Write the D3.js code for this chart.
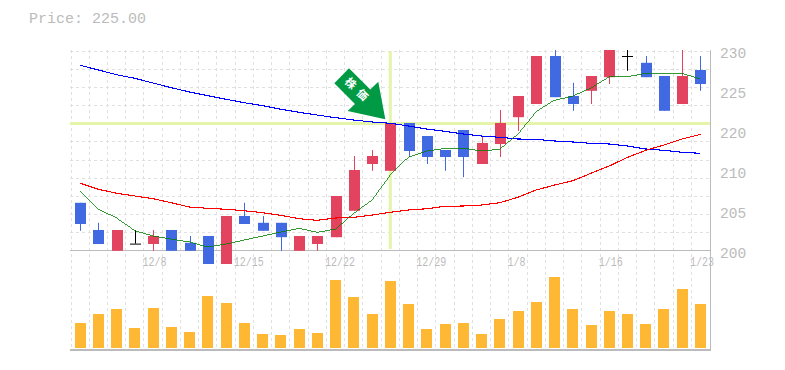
<!DOCTYPE html>
<html>
<head>
<meta charset="utf-8">
<script src="https://cdn.jsdelivr.net/npm/d3@7"></script>
<style>
  html, body { margin: 0; padding: 0; background: #fff; }
  text { font-family: "Liberation Mono", monospace; fill: #bbb; }
</style>
</head>
<body>
<div id="chart"></div>
<script>
var priceLabel = "Price: 225.00";

var dateTicks = [
  { i: 4, label: "12/8" },
  { i: 9, label: "12/15" },
  { i: 14, label: "12/22" },
  { i: 19, label: "12/29" },
  { i: 24, label: "1/8" },
  { i: 29, label: "1/16" },
  { i: 34, label: "1/23" }
];
var priceTicks = [200, 205, 210, 220, 225, 230];

// candles
var opens  = [205.9, 202.5, 199.9, 200.8, 200.75, 202.5, 200.9, 201.75, 198.25, 204.25, 203.4, 203.4, 199.9, 200.75, 201.6, 204.9, 211.5, 209.9, 220.875, 218.5, 215, 220, 211.5, 216.5, 221.6, 223.25, 229.25, 224.25, 224.9, 226.6, 229.25, 228.4, 226.75, 223.25, 227.5];
var closes = [203.25, 200.75, 202.5, 200.8, 201.75, 199.9, 199.9, 198.25, 204.25, 203.25, 202.4, 201.6, 201.75, 201.75, 206.75, 210, 213.5, 220.875, 214.75, 213.25, 213.25, 213.25, 216.75, 220.875, 224.25, 229.25, 224.1, 223.25, 226.75, 230, 229.25, 226.6, 222.4, 226.75, 225.75];
var highs  = [205.9, 203.4, 202.5, 202.5, 202.5, 202.5, 201.75, 201.75, 204.25, 205.9, 204.25, 203.4, 201.75, 201.75, 206.75, 213.5, 215, 220.875, 220.875, 218.5, 215, 220, 218.5, 222.5, 224.25, 229.25, 230, 225.9, 226.75, 230, 230, 229.25, 226.75, 230, 229.25];
var lows   = [202.4, 200.75, 199.9, 200.8, 199.9, 199.9, 199.9, 198.25, 198.25, 203.25, 202.4, 199.9, 199.9, 199.9, 201.6, 204.9, 209.9, 209.9, 213.25, 211.5, 209.9, 209.1, 211.5, 213.25, 219.75, 223.25, 224.1, 222.4, 223.25, 225.75, 227.4, 226.6, 222.4, 223.25, 224.9];

// moving averages, as prices
var maShort = [207.34, 205.12, 204, 202.41, 201.75, 201.37, 201, 200.37, 200.75, 201.25, 201.75, 202.25, 202.71, 202.21, 202.62, 204.59, 206.25, 209.37, 213.25, 214.75, 215.4, 215.5, 214.75, 215.2, 219, 222.3, 223.75, 224.25, 225.25, 226.66, 226.66, 227.09, 227.09, 227.09, 226.34];
var maMid   = [208.34, 207.59, 207.09, 206.75, 206.41, 205.91, 205.37, 205.21, 205.09, 204.91, 204.66, 204.34, 203.91, 203.71, 204, 204.09, 204.37, 204.71, 205, 205.16, 205.46, 205.5, 205.62, 205.91, 206.59, 207.5, 208.12, 208.66, 209.59, 211, 213.17, 214.92, 216.25, 217.75, 218.92];
var maLong  = [228.09, 227.5, 226.91, 226.46, 225.87, 225.29, 224.75, 224.29, 223.84, 223.41, 223.04, 222.59, 222.21, 221.87, 221.54, 221.25, 221, 220.84, 220.5, 220.12, 219.67, 219, 218.5, 218.17, 217.75, 217.67, 217.25, 217, 216.67, 216.5, 216, 215.25, 214.92, 214.42, 214.17];

var volumes = [25, 34, 39, 20, 40, 21, 16, 52, 45, 25, 14, 13, 19, 15, 68, 51, 34, 67, 44, 19, 24, 25, 14, 29, 37, 46, 71, 39, 23, 37, 34, 24, 39, 59, 44];

var markerIndex = 17;
var markerPrice = 220.81;

var svgWidth = 785;
var svgHeight = 370;
var left = 71, right = 709.6;
var priceTop = 50, volTop = 250, volBottom = 348, bottom = 350;

var svg = d3.select("#chart")
  .append("svg")
  .attr("width", svgWidth)
  .attr("height", svgHeight)
  .style("display", "block");

// Scales
var x = d3.scaleBand()
  .domain(d3.range(opens.length))
  .range([left, right])
  .paddingInner(0);

// the labels on the right are evenly spaced although their steps are not
var y = d3.scaleLinear()
  .domain([200, 205, 210, 220, 225, 230])
  .range([250, 210, 170, 130, 90, 50]);

var yVol = d3.scaleLinear()
  .domain([0, 98])
  .range([volBottom, volTop]);

function cx(i) { return x(i) + x.bandwidth() / 2; }

svg.append("text")
  .attr("x", 29)
  .attr("y", 23)
  .style("font-size", "15px")
  .text(priceLabel);

// Grid
var gridColor = "#e0e0e0";
var gridY = d3.range(11).map(i => 50.5 + i * 18.18);
svg.append("g").selectAll("line")
  .data(gridY)
  .join("line")
  .attr("x1", 70).attr("x2", 710)
  .attr("y1", d => Math.round(d) + 0.5).attr("y2", d => Math.round(d) + 0.5)
  .attr("stroke", gridColor)
  .attr("stroke-dasharray", "3,3");

svg.append("g").selectAll("line")
  .data(d3.range(opens.length))
  .join("line")
  .attr("x1", d => Math.floor(x(d)) + 0.5).attr("x2", d => Math.floor(x(d)) + 0.5)
  .attr("y1", priceTop).attr("y2", bottom)
  .attr("stroke", gridColor)
  .attr("stroke-dasharray", "3,3");

// Panel borders
var borderColor = "#bbb";
svg.append("line").attr("x1", 70).attr("x2", 711).attr("y1", 250.5).attr("y2", 250.5).attr("stroke", borderColor);
svg.append("line").attr("x1", 70).attr("x2", 711).attr("y1", 350).attr("y2", 350).attr("stroke", borderColor).attr("stroke-width", 2);
svg.append("line").attr("x1", 710.5).attr("x2", 710.5).attr("y1", 50).attr("y2", 350).attr("stroke", borderColor);

// Marker lines
var markerColor = "#e4f4a8";
svg.append("line")
  .attr("x1", 70).attr("x2", 710)
  .attr("y1", y(markerPrice)).attr("y2", y(markerPrice))
  .attr("stroke", markerColor).attr("stroke-width", 3);
svg.append("line")
  .attr("x1", cx(markerIndex)).attr("x2", cx(markerIndex))
  .attr("y1", 51).attr("y2", 249)
  .attr("stroke", markerColor).attr("stroke-width", 3);

// Tick labels
svg.append("g").selectAll("text")
  .data(dateTicks)
  .join("text")
  .attr("x", d => cx(d.i) - 10.5)
  .attr("y", 266)
  .attr("textLength", d => d.label.length * 6)
  .attr("lengthAdjust", "spacingAndGlyphs")
  .style("font-size", "12.5px")
  .text(d => d.label);

svg.append("g").selectAll("text")
  .data(priceTicks)
  .join("text")
  .attr("x", 720)
  .attr("y", d => y(d) + 8)
  .style("font-size", "14.5px")
  .text(d => d);

// Volume
svg.append("g").selectAll("rect")
  .data(volumes)
  .join("rect")
  .attr("x", (d, i) => Math.round(cx(i) - 5.5))
  .attr("width", 11)
  .attr("y", d => yVol(d))
  .attr("height", d => volBottom - yVol(d))
  .attr("fill", "#ffb833");

// Moving averages
var line = d3.line()
  .x((d, i) => cx(i))
  .y(d => y(d));

// Candles
var up = "#e2435f", down = "#4169e1";
function candleColor(i) {
  if (opens[i] === closes[i]) return "#000";
  return closes[i] > opens[i] ? up : down;
}
var candles = svg.append("g").selectAll("g")
  .data(d3.range(opens.length))
  .join("g");
candles.append("line")
  .attr("x1", d => Math.round(cx(d)) + 0.5).attr("x2", d => Math.round(cx(d)) + 0.5)
  .attr("y1", d => y(highs[d])).attr("y2", d => y(lows[d]))
  .attr("stroke", candleColor);
candles.append("rect")
  .attr("x", d => Math.round(cx(d) - 5))
  .attr("width", 11)
  .attr("y", d => y(Math.max(opens[d], closes[d])))
  .attr("height", d => Math.max(1, y(Math.min(opens[d], closes[d])) - y(Math.max(opens[d], closes[d]))))
  .attr("fill", candleColor);

svg.append("path").attr("d", line(maLong)).attr("fill", "none").attr("stroke", "#0000ff").attr("stroke-width", 1.1).attr("shape-rendering", "crispEdges");
svg.append("path").attr("d", line(maMid)).attr("fill", "none").attr("stroke", "#ff0000").attr("stroke-width", 1.1).attr("shape-rendering", "crispEdges");
svg.append("path").attr("d", line(maShort)).attr("fill", "none").attr("stroke", "#008000").attr("stroke-width", 0.8).attr("shape-rendering", "crispEdges");

// Arrow pointing at the marked candle
var tipX = cx(markerIndex) - 5, tipY = y(markerPrice) - 4.2;
var arrow = svg.append("g").attr("transform", `translate(${tipX},${tipY})`);
arrow.append("path")
  .attr("d", "M0,0 L-37.6,-8.3 L-30.3,-15.3 L-51,-36 L-36.3,-51 L-15,-29.7 L-7,-37.6 Z")
  .attr("fill", "#009a44");
arrow.selectAll("text")
  .data(["株", "価"])
  .join("text")
  .attr("text-anchor", "middle")
  .attr("dy", "0.35em")
  .attr("transform", (d, i) => `translate(${-34.6 + i * 11.6},${-36 + i * 11.7}) rotate(45)`)
  .style("font-family", '"Noto Sans CJK JP"')
  .style("font-weight", "700")
  .style("font-size", "11px")
  .style("fill", "#fff")
  .text(d => d);
</script>
</body>
</html>
